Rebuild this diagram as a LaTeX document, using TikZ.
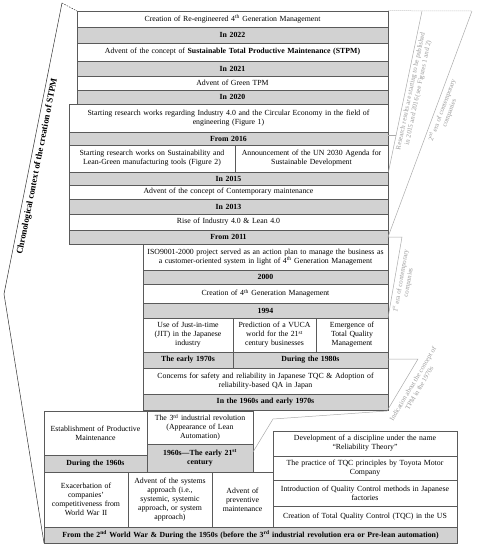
\documentclass[tikz,border=0pt]{standalone}
\usepackage{fontspec}
\setmainfont{Liberation Serif}
\usetikzlibrary{shadows}
\definecolor{boxgray}{HTML}{D2D2D2}
\definecolor{framecol}{HTML}{5A5A5A}
\definecolor{annot}{HTML}{AAAAAA}
\definecolor{annottext}{HTML}{9A9A9A}
\tikzset{
 cellw/.style={draw=framecol, line width=0.7pt, fill=white, inner sep=0pt, align=center,
   font=\fontsize{7.8}{9}\selectfont,
   drop shadow={shadow xshift=1pt, shadow yshift=-1pt, fill=black, opacity=0.35}},
 cellg/.style={cellw, fill=boxgray, font=\fontsize{7.8}{9}\selectfont\bfseries},
 bracket/.style={draw=annot, line width=0.5pt},
 annotext/.style={text=annottext, font=\fontsize{6.8}{7.6}\selectfont, align=center, inner sep=0pt},
 frameline/.style={draw=black!80, line width=0.5pt},
}
\newcommand\cellbox[7]{%
 \pgfmathsetmacro\cbw{#4-#2}\pgfmathsetmacro\cbh{#5-#3}%
 \pgfmathsetmacro\cbx{(#2+#4)/2}\pgfmathsetmacro\cby{(#3+#5)/2}%
 \pgfmathsetmacro\cbt{#4-#2-4}%
 \node[#6, minimum width=\cbw pt, minimum height=\cbh pt, text width=\cbt pt] (#1) at (\cbx,\cby) {#7};}
\begin{document}
\begin{tikzpicture}[x=1pt,y=-1pt]
\useasboundingbox (0,0) rectangle (477,550);
% outer frame on the left
\coordinate (ftop) at (62,3);
\coordinate (fleft) at (4,294);
\coordinate (fbot) at (44,543);
\coordinate (ftopr) at (77,11);
\draw[frameline, dashed, dash pattern=on 1.5pt off 1.2pt] (ftop) -- (ftopr);
\draw[frameline] (ftop) -- (fleft) -- (fbot);
\node[rotate=78.8, font=\fontsize{9}{10}\selectfont\bfseries, inner sep=0pt] (chrono) at (37.5,166.6) {Chronological context of the creation of STPM};

% top block
\cellbox{r1}{77}{11}{388}{27}{cellw}{Creation of Re-engineered 4\textsuperscript{th} Generation Management}
\cellbox{g1}{77}{27}{388}{43}{cellg}{In 2022}
\cellbox{r2}{77}{43}{388}{61}{cellw}{Advent of the concept of \textbf{Sustainable Total Productive Maintenance (STPM)}}
\cellbox{g2}{77}{61}{388}{76}{cellg}{In 2021}
\cellbox{r3}{77}{76}{388}{90}{cellw}{Advent of Green TPM}
\cellbox{g3}{77}{90}{388}{104}{cellg}{In 2020}
\cellbox{r4}{69}{104}{388}{132}{cellw}{Starting research works regarding Industry 4.0 and the Circular Economy in the field of\\engineering (Figure 1)}
\cellbox{g4}{69}{132}{388}{145}{cellg}{From 2016}
\cellbox{r5a}{69}{145}{235}{172}{cellw}{Starting research works on Sustainability and\\Lean-Green manufacturing tools (Figure 2)}
\cellbox{r5b}{235}{145}{388}{172}{cellw}{Announcement of the UN 2030 Agenda for\\Sustainable Development}
\cellbox{g5}{69}{172}{388}{185}{cellg}{In 2015}
\cellbox{r6}{69}{185}{388}{199}{cellw}{Advent of the concept of Contemporary maintenance}
\cellbox{g6}{69}{199}{388}{214}{cellg}{In 2013}
\cellbox{r7}{69}{214}{388}{230}{cellw}{Rise of Industry 4.0 \& Lean 4.0}
\cellbox{g7}{69}{230}{388}{244}{cellg}{From 2011}
\cellbox{r8}{143}{244}{388}{270}{cellw}{ISO9001-2000 project served as an action plan to manage the business as\\a customer-oriented system in light of 4\textsuperscript{th} Generation Management}
\cellbox{g8}{143}{270}{388}{284}{cellg}{2000}
\cellbox{r9}{143}{284}{388}{303}{cellw}{Creation of 4\textsuperscript{th} Generation Management}
\cellbox{g9}{143}{303}{388}{318}{cellg}{1994}
\cellbox{r10a}{143}{318}{233}{352}{cellw}{Use of Just-in-time\\(JIT) in the Japanese\\industry}
\cellbox{r10b}{233}{318}{316}{352}{cellw}{Prediction of a VUCA\\world for the 21\textsuperscript{st}\\century businesses}
\cellbox{r10c}{316}{318}{388}{352}{cellw}{Emergence of\\Total Quality\\Management}
\cellbox{g10a}{143}{352}{233}{368}{cellg}{The early 1970s}
\cellbox{g10b}{233}{352}{388}{368}{cellg}{During the 1980s}
\cellbox{r11}{143}{368}{388}{394}{cellw}{Concerns for safety and reliability in Japanese TQC \& Adoption of\\reliability-based QA in Japan}
\cellbox{g11}{143}{394}{388}{410}{cellg}{In the 1960s and early 1970s}

% bottom block
\cellbox{b1}{44}{411}{147}{455}{cellw}{Establishment of Productive\\Maintenance}
\cellbox{b1g}{44}{455}{147}{472}{cellg}{During the 1960s}
\cellbox{b2}{147}{411}{253}{444}{cellw}{The 3\textsuperscript{rd} industrial revolution\\(Appearance of Lean\\Automation)}
\cellbox{b2g}{147}{444}{253}{472}{cellg}{1960s---The early 21\textsuperscript{st}\\century}
\cellbox{b3}{44}{472}{128}{527}{cellw}{Exacerbation of\\companies'\\competitiveness from\\World War II}
\cellbox{b4}{128}{472}{212}{527}{cellw}{Advent of the systems\\approach (i.e.,\\systemic, systemic\\approach, or system\\approach)}
\cellbox{b5}{212}{472}{273}{527}{cellw}{Advent of\\preventive\\maintenance}
\cellbox{c1}{273}{431}{457}{456}{cellw}{Development of a discipline under the name\\``Reliability Theory''}
\cellbox{c2}{273}{456}{457}{480}{cellw}{The practice of TQC principles by Toyota Motor\\Company}
\cellbox{c3}{273}{480}{457}{506}{cellw}{Introduction of Quality Control methods in Japanese\\factories}
\cellbox{c4}{273}{506}{457}{527}{cellw}{Creation of Total Quality Control (TQC) in the US}
\cellbox{bg}{44}{527}{457}{543}{cellg}{From the 2\textsuperscript{nd} World War \& During the 1950s (before the 3\textsuperscript{rd} industrial revolution era or Pre-lean automation)}

% right-hand annotations
\coordinate (rtop) at (422,11);
\coordinate (rtick) at (396,135);
\coordinate (rtickb) at (388,135);
\coordinate (etop) at (472,11);
\coordinate (eend) at (388,237);
\coordinate (e1a) at (402,237);
\coordinate (e1b) at (388,318);
\coordinate (ia) at (388,359);
\coordinate (ib) at (418,359);
\coordinate (ic) at (387,411);
\coordinate (id) at (273,419);
\coordinate (ie) at (253,452);
\draw[bracket, dash pattern=on 1pt off 1pt] (r1.north east) -- (etop);
\draw[bracket] (rtop) -- (r5b.south east);
\draw[bracket] (rtickb) -- (rtick);
\draw[bracket] (etop) -- (eend) -- (e1a) -- (e1b);
\draw[bracket] (ia) -- (ib) -- (ic) -- (id) -- (ie);
\node[annotext, rotate=78] (lres) at (414.6,92) {Research results are starting to be published\\in 2015 and 2016 (see Figures 1 and 2)};
\node[annotext, rotate=69.6] (l2era) at (445.4,111.5) {2\textsuperscript{nd} era of contemporary\\companies};
\node[annotext, rotate=80.1] (l1era) at (404.4,281.7) {1\textsuperscript{st} era of contemporary\\companies};
\node[annotext, rotate=59.2] (lind) at (416,386) {Indication about the concept of\\TPM in the 1970s};
\end{tikzpicture}
\end{document}
